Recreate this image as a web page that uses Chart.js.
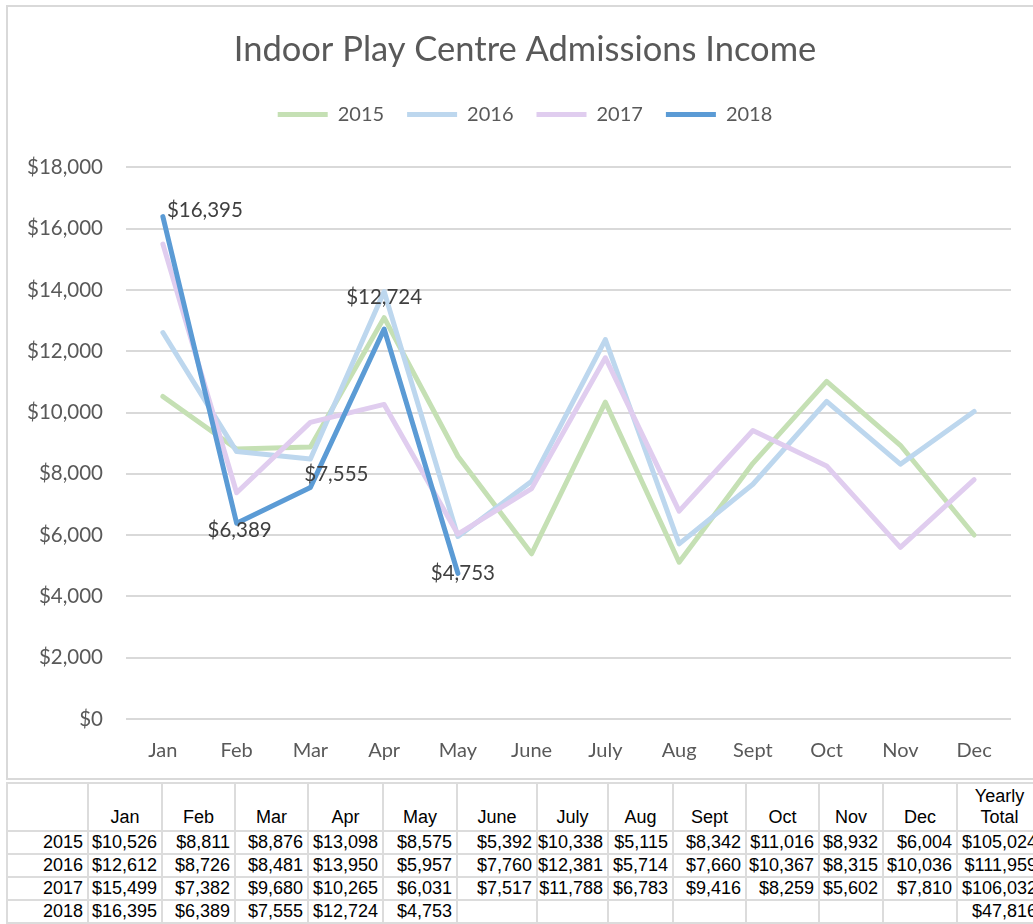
<!DOCTYPE html>
<html>
<head>
<meta charset="utf-8">
<script src="https://cdn.jsdelivr.net/npm/chart.js@4/dist/chart.umd.min.js"></script>
<style>
  body { margin: 0; background: #fff; overflow: hidden; width: 1033px; height: 924px; position: relative; }
  #frame { position: absolute; left: 6px; top: 5px; width: 1100px; height: 775px; box-sizing: border-box; border: 2px solid #d9d9d9; }
  #chart { position: absolute; left: 0; top: 0; }
  #tbl { position: absolute; left: 6px; top: 782px; width: 1035px; border-collapse: collapse; table-layout: fixed;
         font-family: "Liberation Sans", Arial, sans-serif; font-size: 18px; color: #000; }
  #tbl td { border: 2px solid #dcdcdc; padding: 0 4px 0 0; text-align: right; white-space: nowrap; overflow: hidden; line-height: 21px; }
  #tbl tr.head td { text-align: center; vertical-align: bottom; padding: 0 0 2px 0; height: 44px; }
  #tbl tr.row td { height: 21px; }
</style>
</head>
<body>
<div id="frame"></div>
<canvas id="chart" width="1050" height="780"></canvas>
<table id="tbl"></table>
<script>
const months = ["Jan", "Feb", "Mar", "Apr", "May", "June", "July", "Aug", "Sept", "Oct", "Nov", "Dec"];
const years = ["2015", "2016", "2017", "2018"];
const income2015 = [10526, 8811, 8876, 13098, 8575, 5392, 10338, 5115, 8342, 11016, 8932, 6004];
const income2016 = [12612, 8726, 8481, 13950, 5957, 7760, 12381, 5714, 7660, 10367, 8315, 10036];
const income2017 = [15499, 7382, 9680, 10265, 6031, 7517, 11788, 6783, 9416, 8259, 5602, 7810];
const income2018 = [16395, 6389, 7555, 12724, 4753];
const yearlyTotals = [105024, 111959, 106032, 47816];
const yTicks = [0, 2000, 4000, 6000, 8000, 10000, 12000, 14000, 16000, 18000];

const money = v => "$" + v.toLocaleString("en-US");
const chartFont = "Lato, 'Open Sans', sans-serif";

// table under the chart
const colWidths = [81, 74, 73, 73, 75, 74, 80, 71, 65, 73, 73, 64, 74, 85];
const tbl = document.getElementById("tbl");
let html = "<colgroup>" + colWidths.map(w => `<col style="width:${w}px">`).join("") + "</colgroup>";
html += '<tr class="head"><td></td>' + months.map(m => `<td>${m}</td>`).join("") + "<td>Yearly<br>Total</td></tr>";
const allSeries = [income2015, income2016, income2017, income2018];
years.forEach((y, i) => {
    html += '<tr class="row"><td>' + y + "</td>";
    months.forEach((m, j) => {
        const v = allSeries[i][j];
        html += "<td>" + (v === undefined ? "" : money(v)) + "</td>";
    });
    html += "<td>" + money(yearlyTotals[i]) + "</td></tr>";
});
tbl.innerHTML = html;

// data labels for 2018 only
const labelOffsets = [[42, -6], [3, 7], [26, -13], [0, -32], [5, 0]];
const labels2018 = {
    id: "labels2018",
    afterDatasetsDraw(chart) {
        const meta = chart.getDatasetMeta(3);
        const ctx = chart.ctx;
        ctx.save();
        ctx.font = "20.5px " + chartFont;
        ctx.fillStyle = "#404040";
        ctx.textAlign = "center";
        ctx.textBaseline = "middle";
        meta.data.forEach((pt, i) => {
            const off = labelOffsets[i] || [0, -20];
            ctx.fillText(money(income2018[i]), pt.x + off[0], pt.y + off[1]);
        });
        ctx.restore();
    }
};

function line(label, data, color, order) {
    return {
        label: label,
        data: data,
        borderColor: color,
        backgroundColor: color,
        borderWidth: 5,
        borderCapStyle: "round",
        borderJoinStyle: "round",
        pointRadius: 0,
        pointHoverRadius: 0,
        tension: 0,
        order: order
    };
}

new Chart(document.getElementById("chart").getContext("2d"), {
    type: "line",
    data: {
        labels: months,
        datasets: [
            line(years[0], income2015, "#c5e0b4", 3),
            line(years[1], income2016, "#bdd7ee", 2),
            line(years[2], income2017, "#e0cdef", 1),
            line(years[3], income2018, "#5b9bd5", 0)
        ]
    },
    options: {
        responsive: false,
        animation: false,
        devicePixelRatio: 1,
        layout: { padding: 0 },
        plugins: {
            tooltip: { enabled: false },
            title: {
                display: true,
                text: "Indoor Play Centre Admissions Income",
                color: "#595959",
                font: { family: chartFont, size: 34.5, weight: "normal", lineHeight: 1.2 },
                padding: { top: 29.5, bottom: 10.5 }
            },
            subtitle: {
                // spacer between legend and plot
                display: true,
                text: " ",
                weight: 500,
                font: { size: 10, lineHeight: 1 },
                padding: { top: 23, bottom: 0 }
            },
            legend: {
                position: "top",
                labels: {
                    usePointStyle: true,
                    pointStyle: "line",
                    pointStyleWidth: 50,
                    padding: 23,
                    color: "#595959",
                    font: { family: chartFont, size: 20 },
                    sort: (a, b) => a.datasetIndex - b.datasetIndex
                }
            }
        },
        scales: {
            x: {
                offset: true,
                grid: { display: false, offset: true },
                border: { display: false },
                ticks: { color: "#595959", font: { family: chartFont, size: 20 }, padding: 12, maxRotation: 0 },
                afterFit(scale) { scale.height = 61; }
            },
            y: {
                min: 0,
                max: 18000,
                afterBuildTicks(scale) { scale.ticks = yTicks.map(v => ({ value: v })); },
                grid: { color: "#d9d9d9", lineWidth: 2, drawTicks: false },
                border: { display: false },
                ticks: { color: "#595959", font: { family: chartFont, size: 20.5 }, padding: 23, callback: v => money(v) },
                afterFit(scale) { scale.width = 126; }
            },
            // empty right-hand gap inside the frame
            gap: {
                position: "right",
                grid: { display: false },
                border: { display: false },
                ticks: { display: false },
                afterFit(scale) { scale.width = 39; }
            }
        }
    },
    plugins: [labels2018]
});
</script>
</body>
</html>
